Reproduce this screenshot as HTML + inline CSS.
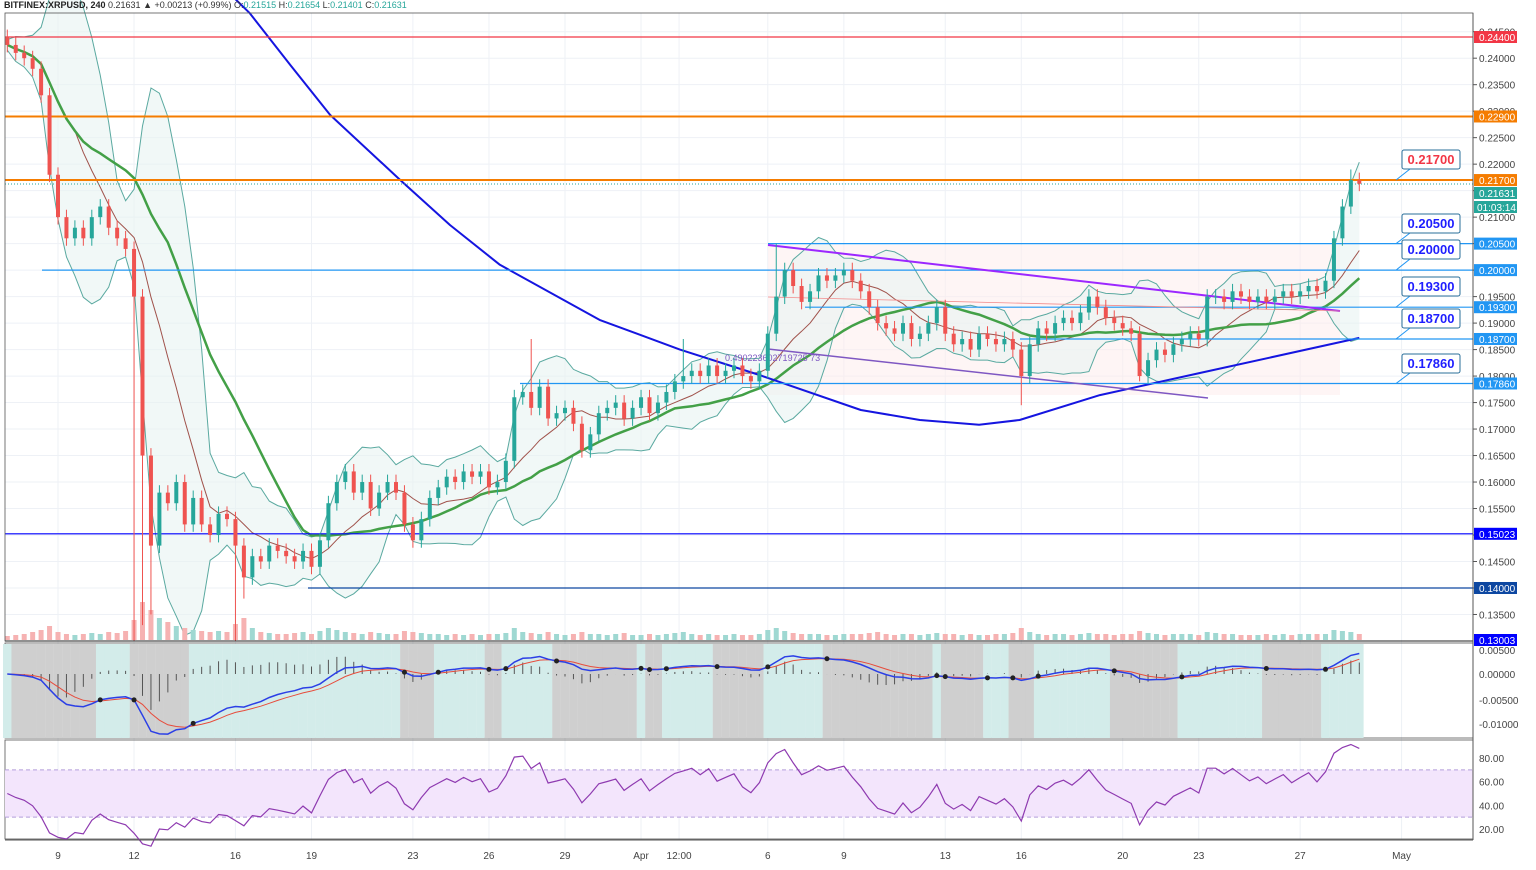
<!DOCTYPE html>
<html><head><meta charset="utf-8"><style>
html,body{margin:0;padding:0;background:#fff;width:1536px;height:870px;overflow:hidden;font-family:"Liberation Sans",sans-serif}
svg text{font-family:"Liberation Sans",sans-serif}
</style></head><body>
<svg id="c" width="1536" height="870" xmlns="http://www.w3.org/2000/svg"></svg>
<script>
// ---- data (8h candles, from ~Mar 7) ----
const closes=[0.2425,0.2410,0.2400,0.2380,0.2330,0.2180,0.2100,0.2060,0.2080,0.2060,
0.2100,0.2120,0.2080,0.2060,0.2040,0.1950,0.1650,0.1480,0.1580,0.1560,
0.1600,0.1520,0.1570,0.1520,0.1500,0.1540,0.1530,0.1480,0.1420,0.1460,
0.1450,0.1480,0.1470,0.1460,0.1450,0.1470,0.1440,0.1490,0.1560,0.1600,
0.1620,0.1580,0.1600,0.1550,0.1580,0.1600,0.1580,0.1520,0.1490,0.1530,
0.1570,0.1590,0.1610,0.1600,0.1620,0.1610,0.1620,0.1590,0.1600,0.1640,
0.1760,0.1770,0.1740,0.1780,0.1720,0.1730,0.1740,0.1710,0.1660,0.1690,
0.1730,0.1740,0.1750,0.1720,0.1740,0.1760,0.1730,0.1750,0.1770,0.1790,
0.1800,0.1810,0.1800,0.1820,0.1800,0.1810,0.1820,0.1800,0.1790,0.1810,
0.1880,0.1950,0.2000,0.1970,0.1940,0.1960,0.1990,0.1980,0.1990,0.2000,
0.1980,0.1960,0.1930,0.1900,0.1890,0.1880,0.1900,0.1870,0.1880,0.1900,
0.1930,0.1880,0.1860,0.1870,0.1850,0.1880,0.1870,0.1860,0.1870,0.1850,
0.1800,0.1860,0.1890,0.1880,0.1900,0.1910,0.1900,0.1920,0.1950,0.1930,
0.1910,0.1900,0.1890,0.1880,0.1800,0.1830,0.1850,0.1840,0.1860,0.1870,
0.1880,0.1870,0.1950,0.1950,0.1940,0.1960,0.1950,0.1940,0.1950,0.1940,
0.1950,0.1960,0.1950,0.1960,0.1970,0.1960,0.1980,0.2060,0.2120,0.2170,0.2163];
const firstOpen=0.2440;
const spikeLows=[[15,0.1300],[16,0.1330],[17,0.1350],[27,0.1300],[28,0.1380],[120,0.1745],[134,0.1790]];
const spikeHighs=[[62,0.1870],[80,0.1870],[91,0.2050],[159,0.2190]];
const volumes=[4,5,6,8,10,14,8,6,5,6,7,6,8,7,9,20,38,30,22,18,14,12,10,9,8,9,8,16,22,12,8,7,6,6,7,8,6,9,12,10,8,7,6,8,7,6,6,9,8,7,6,6,5,6,5,6,5,6,6,7,12,8,7,6,8,6,5,6,8,6,6,5,6,7,5,5,6,5,6,7,8,6,5,6,5,5,6,5,5,6,10,12,9,7,6,6,6,5,5,6,6,6,7,8,6,5,6,6,5,6,7,6,6,5,6,5,5,6,6,7,12,8,6,5,6,6,5,6,7,6,6,5,6,6,9,7,6,5,6,6,6,5,8,7,6,6,5,5,5,6,5,6,5,6,6,6,6,10,9,8,6];
const ma200Idx=[20,28.7,33.5,38.2,46.5,52.4,58.3,70.1,79.6,89,101,108,115,119.8,129.3,141.2,160];
const ma200Val=[0.262,0.2485,0.2387,0.2293,0.2170,0.2085,0.2010,0.1906,0.1850,0.1802,0.1736,0.1717,0.1708,0.1717,0.1764,0.1806,0.1872];
const priceTicks=[0.245,0.240,0.235,0.230,0.225,0.220,0.215,0.210,0.205,0.200,0.195,0.190,0.185,0.180,0.175,0.170,0.165,0.160,0.155,0.150,0.145,0.140,0.135];
const dateLabels=["9","12","16","19","23","26","29","Apr","12:00","6","9","13","16","20","23","27","May"];
const dateDays=[9,12,16,19,23,26,29,32,33.5,37,40,44,47,51,54,58,62];
const macdTicks=[0.005,0,-0.005,-0.01];
const rsiTicks=[80,60,40,20];
const levels=[
 {p:0.244,c:"#f23645",x0:5,lab:"0.24400"},
 {p:0.229,c:"#f57c00",x0:5,lab:"0.22900",w:2},
 {p:0.217,c:"#f57c00",x0:5,lab:"0.21700",w:2},
 {p:0.205,c:"#2196f3",x0:768,lab:"0.20500"},
 {p:0.200,c:"#2196f3",x0:42,lab:"0.20000"},
 {p:0.193,c:"#2196f3",x0:805,lab:"0.19300"},
 {p:0.187,c:"#2196f3",x0:1020,lab:"0.18700"},
 {p:0.1786,c:"#2196f3",x0:520,lab:"0.17860"},
 {p:0.15023,c:"#0000ff",x0:5,lab:"0.15023"},
 {p:0.140,c:"#0d47a1",x0:308,lab:"0.14000"}];
const callouts=[["0.21700",0.217,150,"#f23645"],["0.20500",0.205,214,"#1e1eff"],["0.20000",0.200,240,"#1e1eff"],["0.19300",0.193,277,"#1e1eff"],["0.18700",0.187,309,"#1e1eff"],["0.17860",0.1786,354,"#1e1eff"]];

// ---- scales ----
const X=i=>58+(7+i/3-9)*25.35;
const XD=d=>58+(d-9)*25.35;
const Y=p=>37+(0.244-p)*5298;
const YM=v=>674-v*3400;
const YR=v=>829-(v-20)*1.183;
const svg=document.getElementById('c');
const NS="http://www.w3.org/2000/svg";
function el(t,a,parent){const e=document.createElementNS(NS,t);for(const k in a)e.setAttribute(k,a[k]);(parent||svg).appendChild(e);return e;}
function txt(s,a,parent){const e=el('text',a,parent);e.textContent=s;return e;}
const N=closes.length;
const opens=closes.map((c,i)=>i?closes[i-1]:firstOpen);
const highs=closes.map((c,i)=>Math.max(c,opens[i])+0.0014);
const lows=closes.map((c,i)=>Math.min(c,opens[i])-0.0014);
spikeLows.forEach(([i,v])=>lows[i]=v);
spikeHighs.forEach(([i,v])=>highs[i]=v);

// grid
const grid=el('g',{});
priceTicks.forEach(p=>{const y=Y(p);if(y>14&&y<640)el('line',{x1:5,x2:1473,y1:y,y2:y,stroke:"#eef1f6"},grid);});
dateDays.forEach(d=>{const x=XD(d);el('line',{x1:x,x2:x,y1:13,y2:840,stroke:"#eef1f6"},grid);});

// pink channel zone
const zone=el('rect',{x:768,y:245,width:572,height:150,fill:"#fdecec",opacity:0.5});


// bollinger + ma
function sma(arr,n,i){let s=0,k=0;for(let j=Math.max(0,i-n+1);j<=i;j++){s+=arr[j];k++;}return s/k;}
function sd(arr,n,i,m){let s=0,k=0;for(let j=Math.max(0,i-n+1);j<=i;j++){s+=(arr[j]-m)**2;k++;}return Math.sqrt(s/k);}
const bbM=[],bbU=[],bbL=[],ma50=[];
for(let i=0;i<N;i++){const m=sma(closes,9,i);const s=sd(closes,9,i,m);bbM.push(m);bbU.push(m+1.8*s+0.001);bbL.push(m-1.8*s-0.001);ma50.push(sma(closes,20,i));}
const pts=(a,f,s)=>a.map((v,i)=>X(i).toFixed(1)+","+f(v).toFixed(1)).slice(s||0);
const bbArea=el('polygon',{points:pts(bbU,Y).join(" ")+" "+pts(bbL,Y).reverse().join(" "),fill:"#e8f4f2",opacity:0.6});

[[bbU,'bollinger-upper',"#5aa9a0",1],[bbL,'bollinger-lower',"#5aa9a0",1],[bbM,'bollinger-basis',"#a0524b",1],[ma50,'ma-50',"#43a047",2.5]].forEach(([a,n,c,w])=>{
 const l=el('polyline',{points:pts(a,Y).join(" "),fill:"none",stroke:c,"stroke-width":w});
 });
const m200=el('polyline',{points:ma200Idx.map((ix,k)=>X(ix).toFixed(1)+","+Y(ma200Val[k]).toFixed(1)).join(" "),fill:"none",stroke:"#1515e0","stroke-width":2,"stroke-linejoin":"round"});


// levels
levels.forEach(L=>{const y=Y(L.p);const l=el('line',{x1:L.x0,x2:1473,y1:y,y2:y,stroke:L.c,"stroke-width":L.w||1.2});
 });
const dl=el('line',{x1:5,x2:1473,y1:184,y2:184,stroke:"#26a69a","stroke-dasharray":"1,2"});


// channel lines
[[768,245,1340,311,"#9c27ff",2,'channel-upper'],[768,349,1208,398,"#7e57c2",1.5,'channel-lower'],[768,297,1340,311,"#f28b8b",0.8,'channel-mid']].forEach(a=>{
 const l=el('line',{x1:a[0],y1:a[1],x2:a[2],y2:a[3],stroke:a[4],"stroke-width":a[5]});
 });
const ft=txt("0.490223602719725 73",{x:725,y:361,"font-size":9,fill:"#7e57c2"});


// volume
volumes.forEach((v,i)=>{const up=closes[i]>=opens[i];const r=el('rect',{x:X(i)-2.5,y:640-v,width:5,height:v,fill:up?"#9fd8d2":"#f6b2b2"});
 });

// candles
for(let i=0;i<N;i++){const up=closes[i]>=opens[i];const c=up?"#26a69a":"#ef5350";const x=X(i);
 const g=el('g',{});
 el('line',{x1:x,x2:x,y1:Y(highs[i]),y2:Y(lows[i]),stroke:c,"stroke-width":1},g);
 const yt=Y(Math.max(opens[i],closes[i])),yb=Y(Math.min(opens[i],closes[i]));
 el('rect',{x:x-2,y:yt,width:4,height:Math.max(1,yb-yt),fill:c},g);}

// callouts
callouts.forEach(([s,p,by,col])=>{const g=el('g',{});
 const ly=Y(p);el('line',{x1:1396,y1:ly,x2:1410,y2:by+19,stroke:"#2196f3"},g);
 el('rect',{x:1402,y:by,width:58,height:19,rx:2,fill:"#fff",stroke:"#2a6f9a","stroke-width":1},g);
 txt(s,{x:1431,y:by+14,"text-anchor":"middle","font-size":13,"font-weight":"bold",fill:col},g);});

// panes borders
[[5,13,1468,628],[5,643,1468,95],[5,740,1468,99]].forEach((r,k)=>{const b=el('rect',{x:r[0],y:r[1],width:r[2],height:r[3],fill:"none",stroke:"#555","stroke-width":0.8});
 });
el('line',{x1:5,x2:1473,y1:641,y2:641,stroke:"#222"});

// MACD
function ema(a,n){const k=2/(n+1);const o=[];a.forEach((v,i)=>o.push(i?v*k+o[i-1]*(1-k):v));return o;}
const e1=ema(closes,6),e2=ema(closes,13);const macd=e1.map((v,i)=>v-e2[i]);const sig=ema(macd,5);
const mg=el('g',{});
for(let i=0;i<N;i++){const x=X(i);el('rect',{x:x-4.3,y:644,width:8.6,height:94,fill:macd[i]<sig[i]?"#cfcfcf":"#d3ecea"},mg);}
for(let i=0;i<N;i++){const h=macd[i]-sig[i];el('line',{x1:X(i),x2:X(i),y1:YM(0),y2:YM(h*2),stroke:"#555","stroke-width":1},mg);}
el('polyline',{points:pts(sig,YM).join(" "),fill:"none",stroke:"#e74c3c","stroke-width":1},mg);
el('polyline',{points:pts(macd,YM).join(" "),fill:"none",stroke:"#2b3fe6","stroke-width":1.5},mg);
for(let i=1;i<N;i++){if((macd[i]-sig[i])*(macd[i-1]-sig[i-1])<0)el('circle',{cx:X(i),cy:YM(macd[i]),r:2.5,fill:"#222"},mg);}

// RSI
const rs=[];let ag=0.002,al=0.002;const n=7;
for(let i=0;i<N;i++){const d=i?closes[i]-closes[i-1]:0;const g=Math.max(d,0),l=Math.max(-d,0);ag=(ag*(n-1)+g)/n;al=(al*(n-1)+l)/n;rs.push(al===0?50:100-100/(1+ag/al));}
const rg=el('g',{});
el('rect',{x:5,y:YR(70),width:1468,height:YR(30)-YR(70),fill:"#f3e5fc"},rg);
[70,30].forEach(v=>el('line',{x1:5,x2:1473,y1:YR(v),y2:YR(v),stroke:"#b39ddb","stroke-dasharray":"4,3"},rg));
el('polyline',{points:pts(rs,YR).join(" "),fill:"none",stroke:"#8e3ab0","stroke-width":1.2},rg);

// price axis
const ax=el('g',{});
el('line',{x1:1473,x2:1473,y1:13,y2:840,stroke:"#555"},ax);
priceTicks.forEach(p=>{const y=Y(p);if(y>18&&y<636){el('line',{x1:1473,x2:1477,y1:y,y2:y,stroke:"#555"},ax);txt(p.toFixed(5),{x:1479,y:y+4,"font-size":10,fill:"#444"},ax);}});
levels.forEach(L=>{const y=Y(L.p);el('rect',{x:1474,y:y-6,width:43,height:12,fill:L.c},ax);txt(L.lab,{x:1479,y:y+4,"font-size":10,fill:"#fff"},ax);});
el('rect',{x:1474,y:187,width:43,height:12,fill:"#26a69a"},ax);txt("0.21631",{x:1479,y:197,"font-size":10,fill:"#fff"},ax);
el('rect',{x:1474,y:201,width:43,height:12,fill:"#26a69a"},ax);txt("01:03:14",{x:1477,y:211,"font-size":10,fill:"#fff"},ax);
el('rect',{x:1474,y:634,width:43,height:12,fill:"#0000ff"},ax);txt("0.13003",{x:1479,y:644,"font-size":10,fill:"#fff"},ax);
macdTicks.forEach(v=>{const y=v===-0.005?700:(v===-0.01?724:YM(v)*0+ (v===0.005?650:674));txt(v.toFixed(5),{x:1479,y:y+4,"font-size":10,fill:"#444"},ax);});
rsiTicks.forEach(v=>{const y=YR(v);txt(v.toFixed(2),{x:1479,y:y+4,"font-size":10,fill:"#444"},ax);});

// time axis
const tx=el('g',{});
el('line',{x1:5,x2:1473,y1:840,y2:840,stroke:"#555"},tx);
dateLabels.forEach((s,k)=>txt(s,{x:XD(dateDays[k]),y:859,"font-size":10,fill:"#444","text-anchor":"middle"},tx));

// header
const hd=el('g',{});
const t=txt("",{x:4,y:8,"font-size":9,fill:"#333"},hd);
[["BITFINEX:XRPUSD, 240 ","#222","bold"],["0.21631 ▲ +0.00213 (+0.99%) ","#333"],["O:","#333"],["0.21515 ","#26a69a"],["H:","#333"],["0.21654 ","#26a69a"],["L:","#333"],["0.21401 ","#26a69a"],["C:","#333"],["0.21631","#26a69a"]].forEach(a=>{const s=el('tspan',{fill:a[1]},t);if(a[2])s.setAttribute('font-weight','bold');s.textContent=a[0];});
</script>
</body></html>
